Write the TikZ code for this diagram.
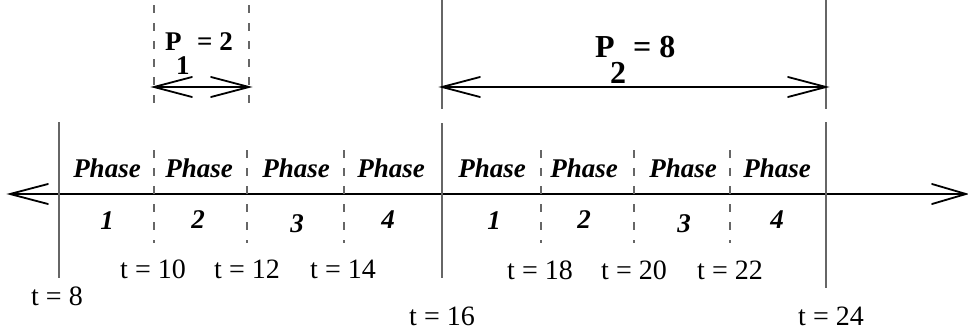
\documentclass[tikz,border=0pt]{standalone}
\usepackage{fontspec}
\setmainfont{Liberation Serif}
\begin{document}
\begin{tikzpicture}[x=1pt,y=-1pt,
  axisline/.style={line width=1.8pt,black},
  tipline/.style={line width=1.8pt,black,line cap=round,line join=miter},
  solidmark/.style={line width=1.5pt,black!60},
  dashmark/.style={line width=1.4pt,black!60,dash pattern=on 8pt off 10pt},
  phaselbl/.style={inner sep=0pt,anchor=base,font=\fontsize{27}{30}\selectfont\bfseries\itshape},
  numlbl/.style={inner sep=0pt,anchor=base,font=\fontsize{27}{30}\selectfont\bfseries\itshape},
  timelbl/.style={inner sep=0pt,anchor=base,font=\fontsize{28}{32}\selectfont},
  plbla/.style={inner sep=0pt,anchor=base west,font=\fontsize{27}{30}\selectfont\bfseries},
  plblb/.style={inner sep=0pt,anchor=base west,font=\fontsize{32}{36}\selectfont\bfseries}]
\useasboundingbox (0,0) rectangle (968,335);

% main axis
\coordinate (axL) at (10,194);
\coordinate (axR) at (966,194);
\draw[axisline] (axL) -- (axR);
\draw[tipline] (48,184) -- (axL) -- (48,204);
\draw[tipline] (932,184) -- (axR) -- (932,204);

% solid period boundaries
\draw[solidmark] (59,122) -- (59,278);
\draw[solidmark] (442,0) -- (442,109);
\draw[solidmark] (442,123) -- (442,278);
\draw[solidmark] (826,0) -- (826,109);
\draw[solidmark] (826,122) -- (826,288);

% dashed boundaries (top)
\draw[dashmark] (154,5) -- (154,109);
\draw[dashmark] (249,5) -- (249,109);

% dashed phase boundaries
\foreach \xx in {154,247,344,541,634,730}
  \draw[dashmark] (\xx,150) -- (\xx,243);

% period arrows
\coordinate (p1a) at (154,87);
\coordinate (p1b) at (249,87);
\draw[axisline] (p1a) -- (p1b);
\draw[tipline] (192,77) -- (p1a) -- (192,97);
\draw[tipline] (211,77) -- (p1b) -- (211,97);

\coordinate (p2a) at (442,87);
\coordinate (p2b) at (826,87);
\draw[axisline] (p2a) -- (p2b);
\draw[tipline] (480,77) -- (p2a) -- (480,97);
\draw[tipline] (788,77) -- (p2b) -- (788,97);

% period labels
\node[plbla] (p1P) at (165,50) {P};
\node[plbla] (p1eq) at (197,50) {= 2};
\node[plbla] (p1sub) at (176,74) {1};
\node[plblb] (p2P) at (595,57) {P};
\node[plblb] (p2eq) at (633,57) {= 8};
\node[plblb] (p2sub) at (610,83) {2};

% phase labels
\foreach \xx/\nm in {107/a,199/b,296/c,391/d,492/e,584/f,683/g,777/h}
  \node[phaselbl] (ph\nm) at (\xx,177) {Phase};
\node[numlbl] (n1) at (107,229) {1};
\node[numlbl] (n2) at (198,228) {2};
\node[numlbl] (n3) at (297,232) {3};
\node[numlbl] (n4) at (388,228) {4};
\node[numlbl] (n5) at (494,229) {1};
\node[numlbl] (n6) at (584,228) {2};
\node[numlbl] (n7) at (684,232) {3};
\node[numlbl] (n8) at (777,228) {4};

% time labels
\node[timelbl] (t10) at (153,278) {t = 10};
\node[timelbl] (t12) at (247,278) {t = 12};
\node[timelbl] (t14) at (343,278) {t = 14};
\node[timelbl] (t18) at (540,279) {t = 18};
\node[timelbl] (t20) at (634,279) {t = 20};
\node[timelbl] (t22) at (730,279) {t = 22};
\node[timelbl] (t8) at (57,305) {t = 8};
\node[timelbl] (t16) at (442,325) {t = 16};
\node[timelbl] (t24) at (831,325) {t = 24};
\end{tikzpicture}
\end{document}
